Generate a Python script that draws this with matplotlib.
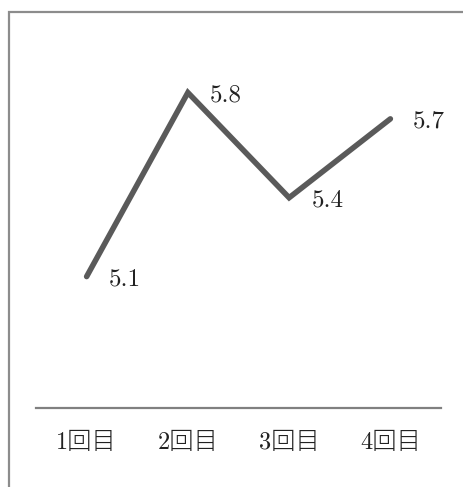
import matplotlib.pyplot as plt
from matplotlib.patches import Rectangle

categories = ["1回目", "2回目", "3回目", "4回目"]
values = [5.1, 5.8, 5.4, 5.7]

plt.rcParams["font.family"] = ["cmr10", "Noto Sans CJK JP"]

fig = plt.figure(figsize=(4.63, 4.87), dpi=100)
# outer frame, open at the right and bottom edges of the image
fig.patches.append(Rectangle((8.5 / 463, -0.1), 1.2, 1 - 11.5 / 487 + 0.1,
                             transform=fig.transFigure, fill=False,
                             edgecolor="#8c8c8c", linewidth=1.6))

ax = fig.add_axes([36 / 463, 79 / 487, 405 / 463, 368 / 487])
x = list(range(len(categories)))
ax.plot(x, values, color="#5a5a5a", linewidth=4, solid_capstyle="round",
        solid_joinstyle="miter")
for xi, v in zip(x, values):
    ax.annotate(f"{v:.1f}", (xi, v), xytext=(16, -2), textcoords="offset points",
                ha="left", va="center", fontsize=18, color="#222222")

ax.set_xlim(-0.5, 3.5)
ax.set_ylim(4.6, 6.0)
ax.set_xticks(x)
ax.set_xticklabels(categories, fontsize=17.5, color="#222222",
                   fontweight="light")
ax.tick_params(axis="x", length=0, pad=17)
ax.set_yticks([])
for s in ["top", "left", "right"]:
    ax.spines[s].set_visible(False)
ax.spines["bottom"].set_color("#808080")
ax.spines["bottom"].set_linewidth(1.6)

fig.savefig("out.png", dpi=100)
